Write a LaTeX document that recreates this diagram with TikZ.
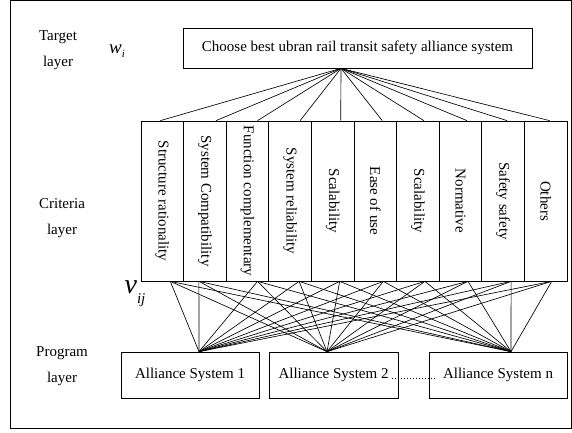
\documentclass[tikz,border=0pt]{standalone}
\usepackage{fontspec}
\setmainfont{Liberation Serif}
\usetikzlibrary{positioning}

\begin{document}
\begin{tikzpicture}[x=1pt,y=-1pt,
      box/.style={draw,font=\fontsize{15}{17}\selectfont,inner sep=0pt,line width=0.7pt},
      crit/.style={box,rotate=-90,minimum width=160pt,minimum height=42.6pt},
      alt/.style={box,minimum height=46pt},
      lbl/.style={font=\fontsize{15}{26}\selectfont,align=center},
      link/.style={draw,line width=0.65pt}]

    \useasboundingbox (0,0) rectangle (572,433);
    \draw[line width=1pt] (10,1) rectangle (571,428);

    \node[box,minimum width=349pt,minimum height=40pt] (goal) at (357.5,48)
      {Choose best ubran rail transit safety alliance system};

    \node[crit] (c1) at (162.3,201) {Structure rationality};
    \node[crit] (c2) at (204.9,201) {System Compatibility};
    \node[crit] (c3) at (247.5,201) {Function complementary};
    \node[crit] (c4) at (290.1,201) {System reliability};
    \node[crit] (c5) at (332.7,201) {Scalability};
    \node[crit] (c6) at (375.3,201) {Ease of use};
    \node[crit] (c7) at (417.9,201) {Scalability};
    \node[crit] (c8) at (460.5,201) {Normative};
    \node[crit] (c9) at (503.1,201) {Safety safety};
    \node[crit] (c10) at (545.7,201) {Others};

    \node[alt,minimum width=138pt] (a1) at (190,375) {Alliance System 1};
    \node[alt,minimum width=129pt] (a2) at (333.5,375) {Alliance System 2};
    \node[alt,minimum width=138pt] (a3) at (498,375) {Alliance System n};
    \draw[dotted,line width=1pt,shorten <=-6pt,shorten >=-7pt]
      ([yshift=-3pt]a2.east) -- ([yshift=-3pt]a3.west);

    \node[lbl] (tgt) at (58,50) {Target\\layer};
    \node[lbl] (cri) at (62,218) {Criteria\\layer};
    \node[lbl] (prg) at (62,366) {Program\\layer};
    \node[font=\fontsize{19}{19}\selectfont\itshape] (wi) at (117,51)
      {w\raisebox{-4pt}{\fontsize{11}{11}\selectfont i}};
    \node[font=\fontsize{28}{28}\selectfont\itshape] (vij) at (135,294)
      {v\raisebox{-10pt}{\fontsize{15}{15}\selectfont ij}};

    % target to criteria
    \coordinate (apex) at ([xshift=-16.5pt]goal.south);
    \foreach \i/\dx in {1/-2,2/11,3/10,4/10,5/8,6/7,7/6,8/6.5,9/4,10/4}
      \draw[link] (apex) -- ([xshift=\dx pt]c\i.west);

    % criteria to alliance systems
    \coordinate (p1) at ([xshift=9pt]a1.north);
    \coordinate (p2) at ([xshift=-6.5pt]a2.north);
    \coordinate (p3) at ([xshift=13pt]a3.north);
    \foreach \i/\dx in {1/8,2/-6,3/10,4/9,5/7,6/8,7/7,8/7.5,9/8,10/6}
      \foreach \p in {p1,p2,p3}
        \draw[link] ([xshift=\dx pt]c\i.east) -- (\p);
  \end{tikzpicture}
\end{document}
